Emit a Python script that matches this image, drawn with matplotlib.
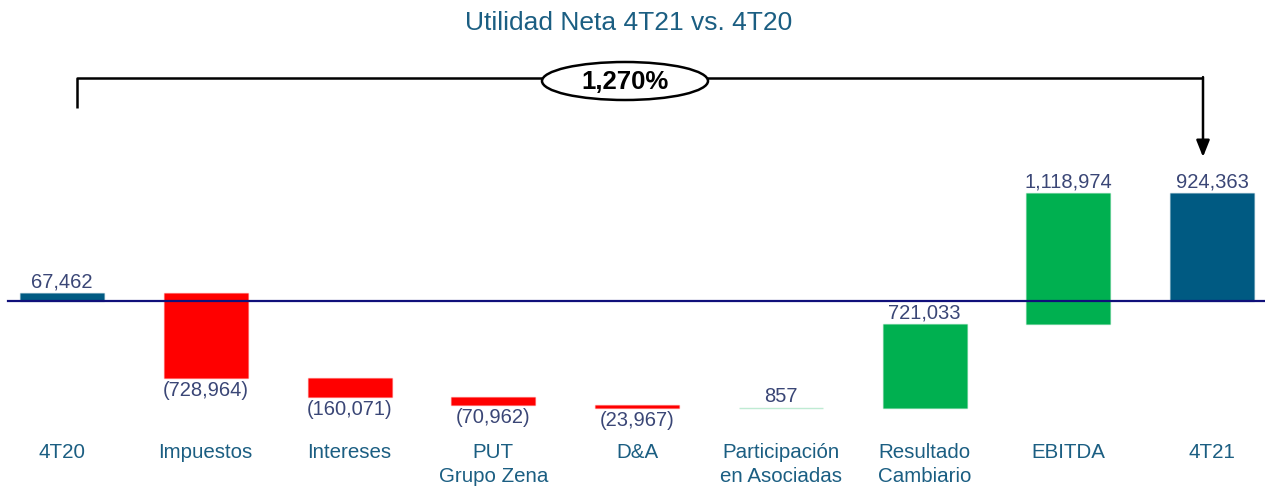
import matplotlib
matplotlib.use("Agg")
import matplotlib.pyplot as plt
from matplotlib.patches import Ellipse
from matplotlib.colors import to_rgba

plt.rcParams['font.family'] = ['Liberation Sans', 'DejaVu Sans']

categories = ["4T20", "Impuestos", "Intereses", "PUT\nGrupo Zena", "D&A",
              "Participación\nen Asociadas", "Resultado\nCambiario", "EBITDA", "4T21"]
values = [67462, -728964, -160071, -70962, -23967, 857, 721033, 1118974, 924363]
labels = ["67,462", "(728,964)", "(160,071)", "(70,962)", "(23,967)", "857",
          "721,033", "1,118,974", "924,363"]
kinds = ["total", "delta", "delta", "delta", "delta", "delta", "delta", "delta", "total"]
title = "Utilidad Neta 4T21 vs. 4T20"
change_label = "1,270%"

W, H = 1265, 487
fig = plt.figure(figsize=(W / 100, H / 100), dpi=100)
ax = fig.add_axes([0, 0, 1, 1])

# layout (pixels)
x0_px, step_px = 62.0, 143.75
base_px, px_per_unit = 301.0, 108.0 / 924363
xmin = -x0_px / step_px
xmax = xmin + W / step_px
ax.set_xlim(xmin, xmax)
ax.set_ylim(-(H - base_px) / px_per_unit, base_px / px_per_unit)
ax.axis("off")

col_total = "#005A82"
col_neg = "#FF0000"
col_pos = "#00B050"
col_val = "#3A4676"
col_cat = "#1B5E82"

running = 0
bar_w = 84 / step_px
unit = 1 / px_per_unit
for i, (v, k) in enumerate(zip(values, kinds)):
    if k == "total":
        bottom, height = 0, v
        running = v
        color = col_total
    else:
        bottom, height = running, v
        running += v
        color = col_pos if v > 0 else col_neg
    ax.bar(i, height, bottom=bottom, width=bar_w, color=color,
           edgecolor=to_rgba(color, 0.25), linewidth=1.0, zorder=2)
    top = max(bottom, bottom + height)
    low = min(bottom, bottom + height)
    if v >= 0:
        ax.text(i, top + 1.5 * unit, labels[i], ha="center", va="bottom",
                fontsize=14.5, color=col_val)
    else:
        ax.text(i, low - 3 * unit, labels[i], ha="center", va="top",
                fontsize=14.5, color=col_val)
    ax.text(i, -(443 - base_px) * unit, categories[i], ha="center", va="top",
            fontsize=14.8, color=col_cat, linespacing=1.3)

# baseline
ax.plot([xmin + 8 / step_px, xmax], [0, 0], color="#10107A", lw=1.6, zorder=3)

# decorations in pixel coordinates
deco = fig.add_axes([0, 0, 1, 1], facecolor="none")
deco.set_xlim(0, W)
deco.set_ylim(H, 0)
deco.axis("off")

fig.text(629 / W, 1 - 23.5 / H, title, ha="center", va="center", fontsize=19,
         color=col_cat)

lx = ax.transData.transform((0, 0))[0] + 15
rx = ax.transData.transform((8, 0))[0] - 9
deco.plot([lx, lx, rx], [108, 78, 78], color="black", lw=1.8, solid_capstyle="butt")
deco.annotate("", xy=(rx, 157), xytext=(rx, 77.1),
              arrowprops=dict(arrowstyle="-|>,head_length=1.0,head_width=0.4",
                              color="black", lw=1.8, shrinkA=0, shrinkB=0))
deco.add_patch(Ellipse((625, 81), 166, 38, facecolor="white", edgecolor="black",
                       lw=1.8, zorder=5))
deco.text(625, 82, change_label, ha="center", va="center", fontsize=18.5,
          fontweight="bold", zorder=6)

fig.savefig("out.png", dpi=100)
